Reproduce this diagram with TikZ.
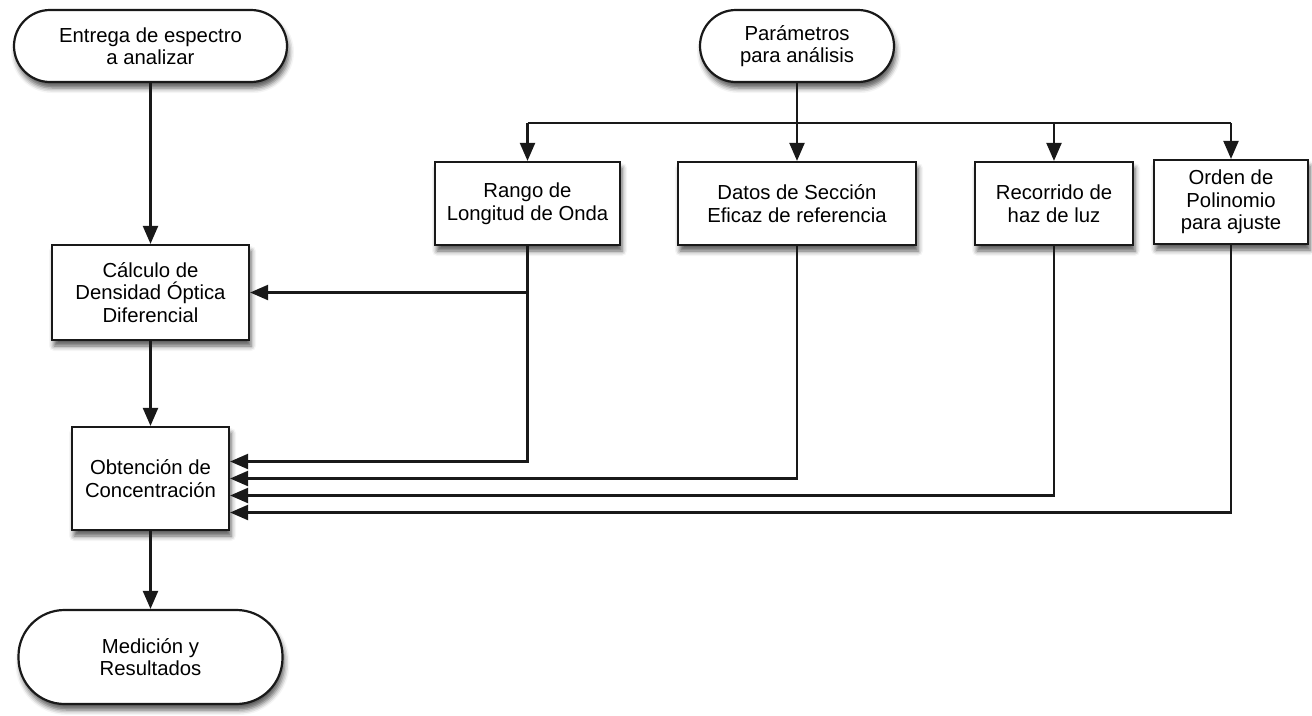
\documentclass[tikz,border=0pt]{standalone}
\usepackage{fontspec}
\setmainfont{Liberation Sans}
\usetikzlibrary{arrows.meta,shadows.blur}
\begin{document}
\begin{tikzpicture}[x=1pt,y=-1pt,
  every node/.style={font=\fontsize{20.3}{22.5}\selectfont, text=black, align=center, inner sep=0pt},
  block/.style={draw=black!90, line width=2.2pt, fill=white,
    blur shadow={shadow xshift=2pt, shadow yshift=-6pt, shadow blur radius=5pt, shadow opacity=65}},
  terminal/.style={block, rounded corners=#1},
  link/.style={draw=black!90, line width=2.2pt},
  arr/.style={link, -{Triangle[length=18pt,width=15pt]}}
]
\useasboundingbox (0,0) rectangle (1312,715);

% start / end terminals
\node[terminal=36pt, minimum width=273pt, minimum height=72pt] (entrega) at (150.5,46)
  {Entrega de espectro\\a analizar};
\node[terminal=36pt, minimum width=194pt, minimum height=72pt] (params) at (797,46)
  {Parámetros\\para análisis};
\node[terminal=46pt, minimum width=264pt, minimum height=94pt] (medicion) at (150.5,657)
  {Medición y\\Resultados};

% parameter boxes
\node[block, minimum width=185pt, minimum height=83pt] (rango) at (527.5,203.5)
  {Rango de\\Longitud de Onda};
\node[block, minimum width=238pt, minimum height=83pt] (datos) at (797,203.5)
  {Datos de Sección\\Eficaz de referencia};
\node[block, minimum width=158pt, minimum height=83pt] (recorrido) at (1054,203.5)
  {Recorrido de\\haz de luz};
\node[block, minimum width=154pt, minimum height=84pt] (orden) at (1231,202)
  {Orden de\\Polinomio\\para ajuste};

% processing boxes
\node[block, minimum width=197pt, minimum height=95pt] (calculo) at (150.5,292.5)
  {Cálculo de\\Densidad Óptica\\Diferencial};
\node[block, minimum width=157pt, minimum height=103pt] (obtencion) at (150.5,478.5)
  {Obtención de\\Concentración};

% main flow
\draw[arr] (entrega.south) -- (calculo.north);
\draw[arr] (calculo.south) -- (obtencion.north);
\draw[arr] (obtencion.south) -- (medicion.north);

% parameter distribution bus
\coordinate (bus) at (797,123);
\draw[link] (rango.north |- bus) -- (orden.north |- bus);
\draw[arr] (params.south) -- (datos.north);
\draw[arr] (rango.north |- bus) -- (rango.north);
\draw[arr] (recorrido.north |- bus) -- (recorrido.north);
\draw[arr] (orden.north |- bus) -- (orden.north);

% parameters feeding the processing steps
\draw[arr] (rango.south |- calculo.east) -- (calculo.east);
\draw[arr] (rango.south) |- ([yshift=17pt]obtencion.east);
\draw[arr] (datos.south) |- (obtencion.east);
\draw[arr] (recorrido.south) |- ([yshift=-17pt]obtencion.east);
\draw[arr] (orden.south) |- ([yshift=-34pt]obtencion.east);
\end{tikzpicture}
\end{document}
